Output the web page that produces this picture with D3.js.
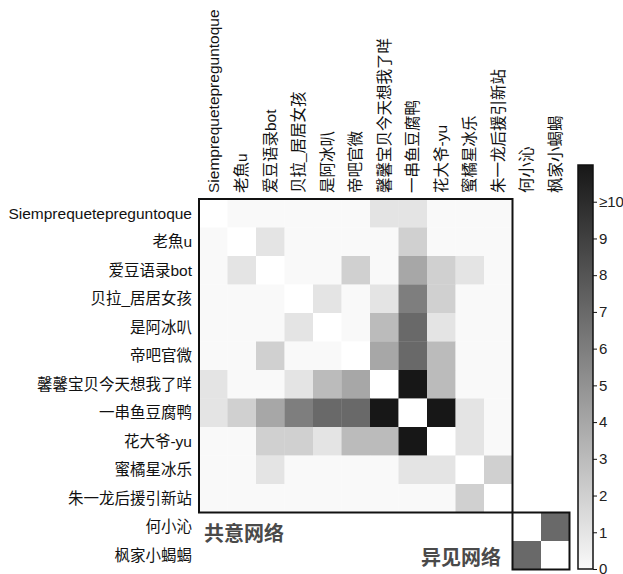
<!DOCTYPE html>
<html>
<head>
<meta charset="utf-8">
<script src="https://cdn.jsdelivr.net/npm/d3@7"></script>
<style>
  body { margin: 0; background: #fff; }
  text { font-family: "Liberation Sans", "Noto Sans CJK SC", sans-serif; }
</style>
</head>
<body>
<script>
// accounts, in matrix order
var names = ["Siemprequetepreguntoque", "老魚u", "爱豆语录bot", "贝拉_居居女孩", "是阿冰叭",
  "帝吧官微", "馨馨宝贝今天想我了咩", "一串鱼豆腐鸭", "花大爷-yu", "蜜橘星冰乐",
  "朱一龙后援引新站", "何小沁", "枫家小蝎蝎"];

// consensus network (first 11 accounts), null = diagonal
var consensus = [
  [null,0,0,0,0,0,1,1,0,0,0],
  [0,null,1,0,0,0,0,2,0,0,0],
  [0,1,null,0,0,2,0,4,2,1,0],
  [0,0,0,null,1,0,1,6,2,0,0],
  [0,0,0,1,null,0,3,7,1,0,0],
  [0,0,2,0,0,null,4,7,3,0,0],
  [1,0,0,1,3,4,null,11,3,0,0],
  [1,2,4,6,7,7,11,null,11,1,0],
  [0,0,2,2,1,3,3,11,null,1,0],
  [0,0,1,0,0,0,0,1,1,null,2],
  [0,0,0,0,0,0,0,0,0,2,null]
];

// dissent network (last 2 accounts)
var dissent = [
  [null,7],
  [7,null]
];

var colorTicks = [0,1,2,3,4,5,6,7,8,9,10];
var colorTickLabels = ["0","1","2","3","4","5","6","7","8","9","≥10"];

var w = 623, h = 574;
var mLeft = 199, mTop = 199, cell = 28.5;

var x = d3.scaleBand().domain(names).range([mLeft, mLeft + cell * names.length]);
var y = d3.scaleBand().domain(names).range([mTop, mTop + cell * names.length]);
var color = d3.scaleLinear().domain([0, 11]).range(["#f9f9f9", "#171717"]).clamp(true);

const svg = d3.select("body").append("svg").attr("width", w).attr("height", h);

function drawBlock(mat, offset) {
  var cells = [];
  mat.forEach(function (row, i) {
    row.forEach(function (v, j) {
      cells.push({ r: names[i + offset], c: names[j + offset], v: v });
    });
  });
  svg.append("g").selectAll("rect").data(cells).enter().append("rect")
    .attr("x", function (d) { return x(d.c); })
    .attr("y", function (d) { return y(d.r); })
    .attr("width", x.bandwidth() + 0.3)
    .attr("height", y.bandwidth() + 0.3)
    .attr("fill", function (d) { return d.v === null ? "#ffffff" : color(d.v); });
  var n = mat.length;
  svg.append("rect")
    .attr("x", x(names[offset])).attr("y", y(names[offset]))
    .attr("width", cell * n).attr("height", cell * n)
    .attr("fill", "none").attr("stroke", "#111").attr("stroke-width", 2);
}

drawBlock(consensus, 0);
drawBlock(dissent, 11);

// row labels
svg.append("g").selectAll("text").data(names).enter().append("text")
  .attr("x", mLeft - 7)
  .attr("y", function (d) { return y(d) + y.bandwidth() / 2; })
  .attr("dy", "0.35em")
  .attr("text-anchor", "end")
  .attr("font-size", "15.5px")
  .attr("fill", "#111")
  .text(function (d) { return d; });

// column labels
svg.append("g").selectAll("text").data(names).enter().append("text")
  .attr("transform", function (d) { return "translate(" + (x(d) + x.bandwidth() / 2) + "," + (mTop - 6) + ") rotate(-90)"; })
  .attr("dy", "0.35em")
  .attr("text-anchor", "start")
  .attr("font-size", "15.5px")
  .attr("fill", "#111")
  .text(function (d) { return d; });

// network titles
svg.append("text").attr("x", 204).attr("y", 541)
  .attr("font-size", "20px").attr("font-weight", "bold").attr("fill", "#4a4a4a")
  .text("共意网络");
svg.append("text").attr("x", 501).attr("y", 565).attr("text-anchor", "end")
  .attr("font-size", "20px").attr("font-weight", "bold").attr("fill", "#4a4a4a")
  .text("异见网络");

// colorbar
var cbX = 578, cbW = 15;
var cy = d3.scaleLinear().domain([0, 11]).range([569, 165]);
var grad = svg.append("defs").append("linearGradient").attr("id", "cbgrad")
  .attr("x1", 0).attr("y1", 1).attr("x2", 0).attr("y2", 0);
grad.append("stop").attr("offset", "0%").attr("stop-color", color(0));
grad.append("stop").attr("offset", "100%").attr("stop-color", color(11));
svg.append("rect").attr("x", cbX).attr("y", cy(11)).attr("width", cbW)
  .attr("height", cy(0) - cy(11)).attr("fill", "url(#cbgrad)")
  .attr("stroke", "#111").attr("stroke-width", 1.5);

var cbAxis = d3.axisRight(cy).tickValues(colorTicks).tickSize(4)
  .tickFormat(function (d, i) { return colorTickLabels[i]; });
var ag = svg.append("g").attr("transform", "translate(" + (cbX + cbW) + ",0)").call(cbAxis);
ag.select(".domain").remove();
ag.selectAll("line").attr("stroke", "#111");
ag.selectAll("text").attr("font-size", "15px").attr("fill", "#222")
  .attr("font-family", "Liberation Sans, sans-serif").attr("x", 6);
</script>
</body>
</html>
